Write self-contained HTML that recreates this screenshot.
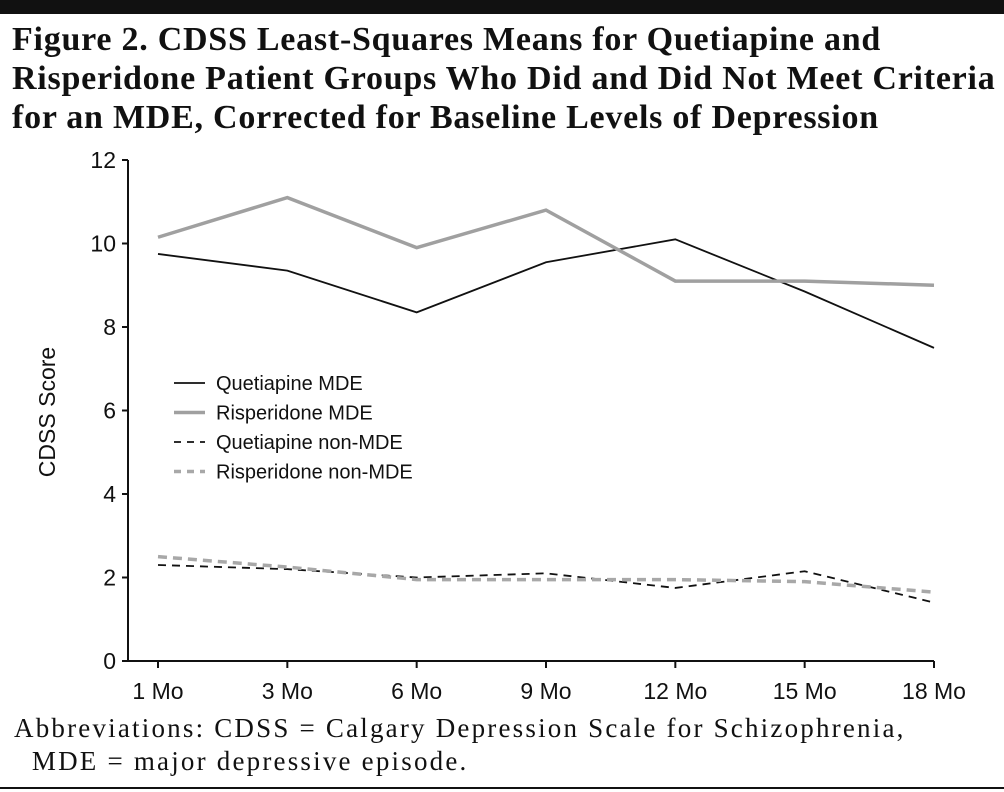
<!DOCTYPE html>
<html><head><meta charset="utf-8"><style>
body{margin:0;background:#fff;width:1004px;height:792px;overflow:hidden;position:relative}
.t{position:absolute;left:12px;top:20px;font-family:"Liberation Serif",serif;font-weight:bold;font-size:34px;line-height:39px;color:#111;letter-spacing:0.75px;white-space:nowrap}
.ab{position:absolute;left:14px;top:712px;font-family:"Liberation Serif",serif;font-size:27px;line-height:33px;color:#111;letter-spacing:2.2px;white-space:nowrap}
</style></head><body>
<div style="position:absolute;left:0;top:0;width:1004px;height:14px;background:#111"></div>
<div class="t">Figure 2. CDSS Least-Squares Means for Quetiapine and<br>Risperidone Patient Groups Who Did and Did Not Meet Criteria<br>for an MDE, Corrected for Baseline Levels of Depression</div>
<svg width="1004" height="792" style="position:absolute;left:0;top:0" id="chart" font-family="Liberation Sans, sans-serif"></svg>
<div class="ab">Abbreviations: CDSS = Calgary Depression Scale for Schizophrenia,<br>&nbsp;&nbsp;MDE = major depressive episode.</div>
<div style="position:absolute;left:0;top:787px;width:1004px;height:2px;background:#111"></div>
<script>
const categories=["1 Mo","3 Mo","6 Mo","9 Mo","12 Mo","15 Mo","18 Mo"];
const yTicks=[0,2,4,6,8,10,12];
const quetMDE=[9.75,9.35,8.35,9.55,10.1,8.85,7.5];
const rispMDE=[10.15,11.1,9.9,10.8,9.1,9.1,9.0];
const quetNon=[2.3,2.2,2.0,2.1,1.75,2.15,1.4];
const rispNon=[2.5,2.25,1.95,1.95,1.95,1.9,1.65];
const svg=document.getElementById('chart');const NS='http://www.w3.org/2000/svg';
const x0=158,x1=934,yb=661,yt=160;
const X=i=>x0+i*(x1-x0)/(categories.length-1);
const Y=v=>yb-v*(yb-yt)/12;
function mk(t,a){const e=document.createElementNS(NS,t);for(const k in a)e.setAttribute(k,a[k]);svg.appendChild(e);return e;}
let ax=mk('line',{x1:x0-30,y1:yb,x2:x1,y2:yb,stroke:'#111','stroke-width':2});

let ay=mk('line',{x1:x0-30,y1:yt,x2:x0-30,y2:yb,stroke:'#111','stroke-width':2});

yTicks.forEach(v=>{let l=mk('line',{x1:x0-36,y1:Y(v),x2:x0-30,y2:Y(v),stroke:'#111','stroke-width':2});

let t=mk('text',{x:x0-42,y:Y(v)+8,'text-anchor':'end','font-size':23,fill:'#111'});t.textContent=v;
});
categories.forEach((c,i)=>{let l=mk('line',{x1:X(i),y1:yb,x2:X(i),y2:yb+7,stroke:'#111','stroke-width':2});

let t=mk('text',{x:X(i),y:yb+38,'text-anchor':'middle','font-size':23,fill:'#111'});t.textContent=c;
});
let yl=mk('text',{x:55,y:412,transform:'rotate(-90 55 412)','text-anchor':'middle','font-size':23,fill:'#111'});yl.textContent='CDSS Score';

const series=[[quetMDE,'#111',1.8,'','quetiapine-mde-line'],[rispMDE,'#a0a0a0',3.5,'','risperidone-mde-line'],[quetNon,'#111',1.8,'8 6','quetiapine-non-mde-line'],[rispNon,'#a8a8a8',3.5,'9 6','risperidone-non-mde-line']];
series.forEach(s=>{let p=mk('polyline',{points:s[0].map((v,i)=>X(i)+','+Y(v)).join(' '),fill:'none',stroke:s[1],'stroke-width':s[2],'stroke-dasharray':s[3]});
});
const labels=['Quetiapine MDE','Risperidone MDE','Quetiapine non-MDE','Risperidone non-MDE'];
labels.forEach((lb,i)=>{const y=383+i*29.5;
let l=mk('line',{x1:174,y1:y,x2:205,y2:y,stroke:series[i][1],'stroke-width':series[i][2],'stroke-dasharray':series[i][3]?'7 6':''});

let t=mk('text',{x:216,y:y+7,'font-size':20,fill:'#111'});t.textContent=lb;
});
</script>
</body></html>
